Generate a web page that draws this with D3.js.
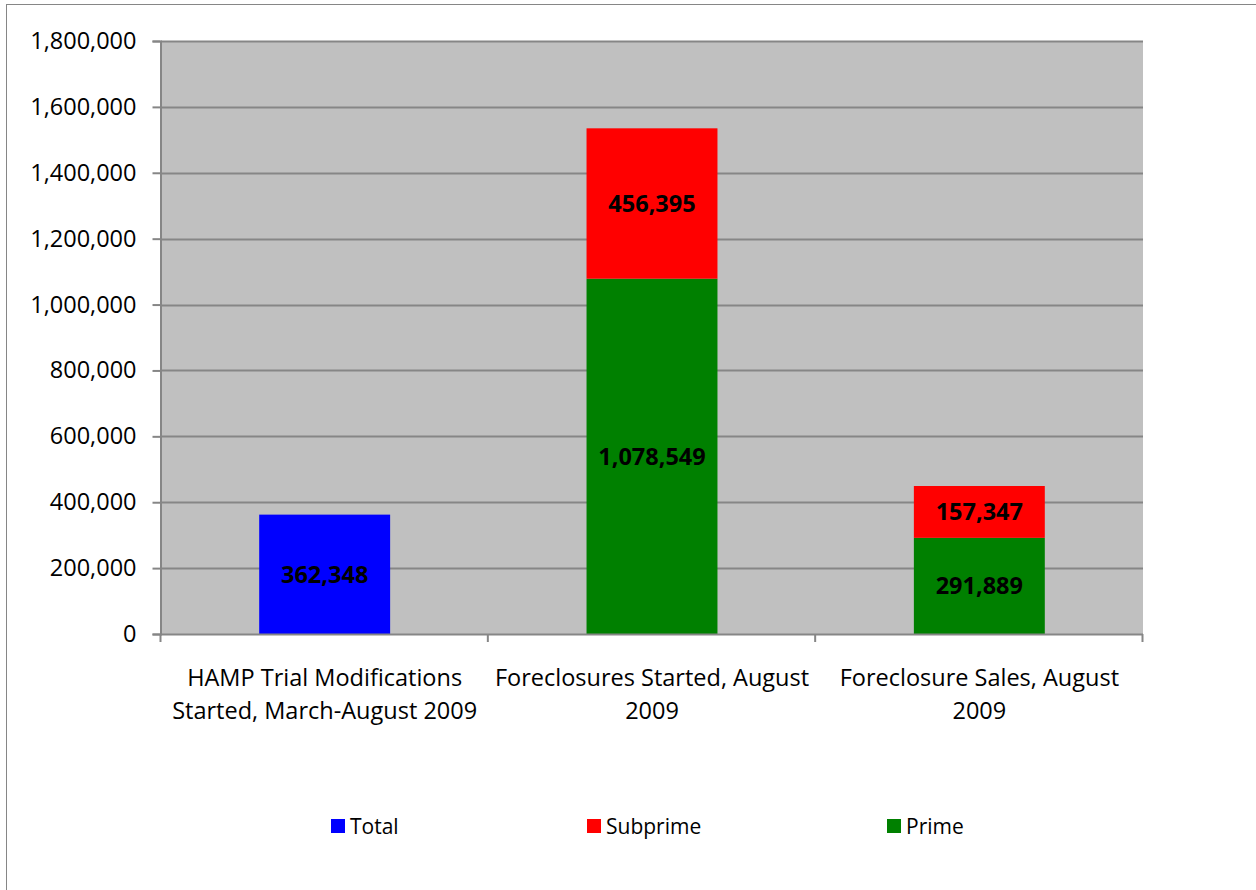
<!DOCTYPE html>
<html>
<head>
<meta charset="utf-8">
<script src="https://cdn.jsdelivr.net/npm/d3@7"></script>
<style>
  body { margin: 0; background: #fff; }
  svg { display: block; font-family: "Open Sans", sans-serif; }
</style>
</head>
<body>
<div id="chart"></div>
<script>
// categories (label lines as Excel wrapped them)
var categories = ["HAMP", "Started", "Sales"];
var categoryLines = [
    ["HAMP Trial Modifications", "Started, March-August 2009"],
    ["Foreclosures Started, August", "2009"],
    ["Foreclosure Sales, August", "2009"]
];
var seriesNames = ["Total", "Subprime", "Prime"];
var seriesColors = ["#0000ff", "#ff0000", "#008000"];

// values per category, null = no segment
var totalValues = [362348, null, null];
var primeValues = [null, 1078549, 291889];
var subprimeValues = [null, 456395, 157347];

var yTicks = [0, 200000, 400000, 600000, 800000, 1000000, 1200000, 1400000, 1600000, 1800000];

var width = 1256, height = 890;
var plot = {left: 161, right: 1143, top: 41, bottom: 634};

var svg = d3.select("#chart").append("svg")
    .attr("width", width)
    .attr("height", height);

// outer chart border (runs off the right and bottom edges)
svg.append("rect")
    .attr("x", 6.5).attr("y", 4.5)
    .attr("width", 1300).attr("height", 1000)
    .attr("fill", "#fff")
    .attr("stroke", "#868686")
    .attr("stroke-width", 1);

var x = d3.scaleBand()
    .domain(categories)
    .range([plot.left, plot.right])
    .paddingInner(0.6)
    .paddingOuter(0.3);

var xOuter = d3.scaleBand()
    .domain(categories)
    .range([plot.left, plot.right]);

var y = d3.scaleLinear()
    .domain([0, 1800000])
    .range([plot.bottom, plot.top]);

// plot background
svg.append("rect")
    .attr("x", plot.left).attr("y", plot.top)
    .attr("width", plot.right - plot.left)
    .attr("height", plot.bottom - plot.top)
    .attr("fill", "#c0c0c0");

// gridlines
svg.append("g")
    .selectAll("line")
    .data(yTicks.slice(1))
    .enter()
    .append("line")
    .attr("x1", plot.left).attr("x2", plot.right)
    .attr("y1", function (d) { return Math.round(y(d)) + 0.5; })
    .attr("y2", function (d) { return Math.round(y(d)) + 0.5; })
    .attr("stroke", "#868686")
    .attr("stroke-width", 2);

// stacked segments
var segments = [];
categories.forEach(function (c, i) {
    if (totalValues[i] != null)
        segments.push({cat: c, y0: 0, y1: totalValues[i], value: totalValues[i], color: seriesColors[0]});
    if (primeValues[i] != null)
        segments.push({cat: c, y0: 0, y1: primeValues[i], value: primeValues[i], color: seriesColors[2]});
    if (subprimeValues[i] != null) {
        var base = primeValues[i] || 0;
        segments.push({cat: c, y0: base, y1: base + subprimeValues[i], value: subprimeValues[i], color: seriesColors[1]});
    }
});

svg.append("g")
    .selectAll("rect")
    .data(segments)
    .enter()
    .append("rect")
    .attr("x", function (d) { return x(d.cat); })
    .attr("width", x.bandwidth())
    .attr("y", function (d) { return y(d.y1); })
    .attr("height", function (d) { return y(d.y0) - y(d.y1); })
    .attr("fill", function (d) { return d.color; });

var fmt = d3.format(",d");

svg.append("g")
    .selectAll("text")
    .data(segments)
    .enter()
    .append("text")
    .attr("x", function (d) { return x(d.cat) + x.bandwidth() / 2; })
    .attr("y", function (d) { return (y(d.y0) + y(d.y1)) / 2; })
    .attr("dy", "0.36em")
    .attr("text-anchor", "middle")
    .style("font-size", "23.5px")
    .style("font-weight", "bold")
    .attr("fill", "#000")
    .text(function (d) { return fmt(d.value); });

// y axis
var yAxis = d3.axisLeft(y)
    .tickValues(yTicks)
    .tickSize(8)
    .tickPadding(16)
    .tickFormat(fmt);

var gy = svg.append("g")
    .attr("transform", "translate(" + (plot.left - 0.5) + ",0)")
    .call(yAxis);
gy.select(".domain").attr("stroke", "#868686").attr("stroke-width", 2);
gy.selectAll(".tick line").attr("stroke", "#868686").attr("stroke-width", 2);
gy.selectAll(".tick text")
    .style("font-size", "23.5px")
    .attr("fill", "#000")
    .style("font-family", "Open Sans, sans-serif");

// x axis line + category tick marks
svg.append("line")
    .attr("x1", plot.left).attr("x2", plot.right)
    .attr("y1", plot.bottom + 0.5).attr("y2", plot.bottom + 0.5)
    .attr("stroke", "#868686").attr("stroke-width", 2);

var xTickPos = categories.map(function (c) { return xOuter(c); }).concat([plot.right]);
svg.append("g")
    .selectAll("line")
    .data(xTickPos)
    .enter()
    .append("line")
    .attr("x1", function (d) { return d - 0.5; })
    .attr("x2", function (d) { return d - 0.5; })
    .attr("y1", plot.bottom)
    .attr("y2", plot.bottom + 8)
    .attr("stroke", "#868686").attr("stroke-width", 2);

// category labels
var catLabel = svg.append("g")
    .selectAll("text")
    .data(categories)
    .enter()
    .append("text")
    .attr("text-anchor", "middle")
    .attr("x", function (d) { return xOuter(d) + xOuter.bandwidth() / 2; })
    .attr("y", 686)
    .style("font-size", "23.5px")
    .attr("fill", "#000");

catLabel.selectAll("tspan")
    .data(function (d, i) { return categoryLines[i]; })
    .enter()
    .append("tspan")
    .attr("x", function () { return d3.select(this.parentNode).attr("x"); })
    .attr("dy", function (d, i) { return i == 0 ? 0 : 33; })
    .text(function (d) { return d; });

// legend
var legendX = [331, 587, 887];
var legend = svg.append("g")
    .selectAll("g")
    .data(seriesNames)
    .enter()
    .append("g")
    .attr("transform", function (d, i) { return "translate(" + legendX[i] + ",819)"; });

legend.append("rect")
    .attr("width", 14)
    .attr("height", 14)
    .attr("fill", function (d, i) { return seriesColors[i]; });

legend.append("text")
    .attr("x", 19)
    .attr("y", 15)
    .style("font-size", "21px")
    .attr("fill", "#000")
    .text(function (d) { return d; });
</script>
</body>
</html>
